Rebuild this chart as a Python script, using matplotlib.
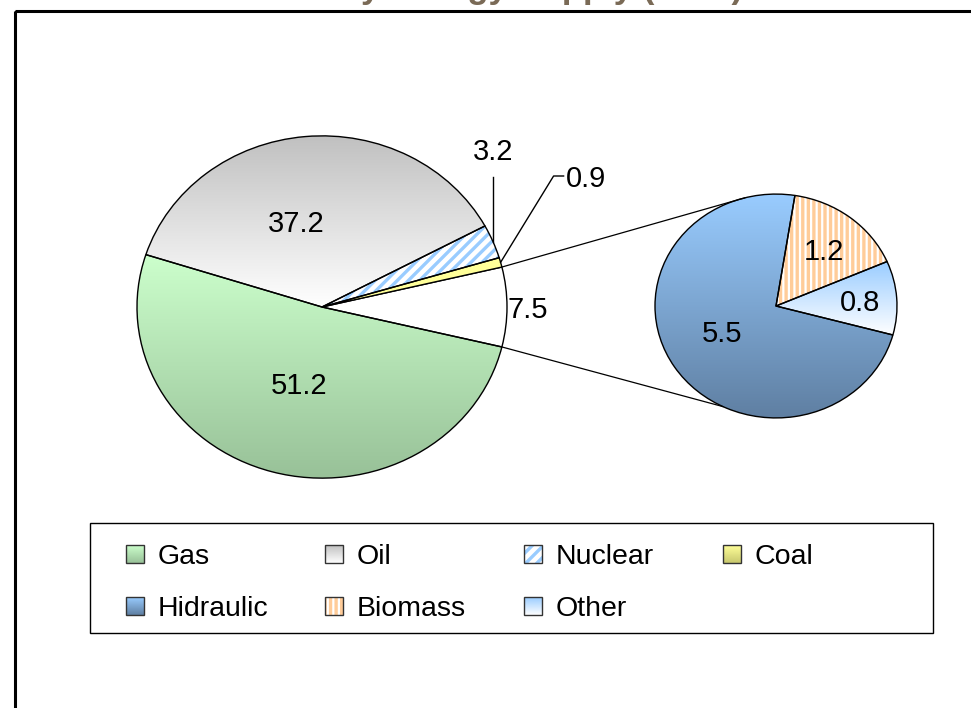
import numpy as np
import matplotlib.pyplot as plt
from matplotlib.colors import LinearSegmentedColormap
from matplotlib.patches import Rectangle, Wedge

plt.rcParams['font.family'] = ['Liberation Sans', 'DejaVu Sans']
plt.rcParams['hatch.linewidth'] = 2.4

title = "Primary Energy Supply (2007)"
main_labels = ["Other", "Coal", "Nuclear", "Oil", "Gas"]
main_values = [7.5, 0.9, 3.2, 37.2, 51.2]
sub_labels = ["Other", "Biomass", "Hidraulic"]
sub_values = [0.8, 1.2, 5.5]
legend_labels = ["Gas", "Oil", "Nuclear", "Coal", "Hidraulic", "Biomass", "Other"]

# fills: vertical gradients (top, bottom) or hatches (pattern, colour)
gradients = {
    "Gas": ("#ccffcc", "#98c198"),
    "Oil": ("#c0c0c0", "#ffffff"),
    "Coal": ("#ffff99", "#c8c86e"),
    "Hidraulic": ("#99ccff", "#5f7fa2"),
    "Other": ("#99ccff", "#ffffff"),
}
hatches = {"Nuclear": ("///", "#99ccff"), "Biomass": ("|||", "#ffcc99")}

W, H = 971, 708
K = 0.925  # pies are a bit wider than tall

fig = plt.figure(figsize=(W / 100, H / 100), dpi=100)
ax = fig.add_axes([0, 0, 1, 1])


def py(v):
    # pixel row -> y in the pie axes
    return (H - v) / K


def gradient_fill(axis, patch, top, bot):
    bb = patch.get_path().transformed(patch.get_patch_transform()).get_extents()
    cols = [bot, top]
    if axis.yaxis_inverted():
        cols = cols[::-1]
    cmap = LinearSegmentedColormap.from_list("g", cols)
    grad = np.linspace(0, 1, 256).reshape(-1, 1)
    im = axis.imshow(grad, cmap=cmap, origin="lower", aspect="auto",
                     extent=(bb.x0, bb.x1, bb.y0, bb.y1), zorder=0.5)
    im.set_clip_path(patch)


def style_wedges(wedges, labels, flat):
    for w, lab in zip(wedges, labels):
        w.set_facecolor("none")
        if lab in flat:
            w.set_facecolor(flat[lab])
        elif lab in hatches:
            h, c = hatches[lab]
            ax.add_patch(Wedge(w.center, w.r, w.theta1, w.theta2, facecolor="white",
                               edgecolor=c, linewidth=0, hatch=h, zorder=0.5))
        else:
            gradient_fill(ax, w, *gradients[lab])


def wedge_point(w, frac, dang=0.0):
    a = np.deg2rad((w.theta1 + w.theta2) / 2 + dang)
    return w.center[0] + frac * w.r * np.cos(a), w.center[1] + frac * w.r * np.sin(a)


def rim_point(center, r, ang):
    a = np.deg2rad(ang)
    return center[0] + r * np.cos(a), center[1] + r * np.sin(a)


wp = dict(edgecolor="black", linewidth=1.0)
main_c, main_r = (322, py(307)), 185
sub_c, sub_r = (776, py(306)), 121

main_w, _ = ax.pie(main_values, center=main_c, radius=main_r, startangle=-13.5,
                   frame=True, wedgeprops=wp)
sub_w, _ = ax.pie(sub_values, center=sub_c, radius=sub_r, startangle=-15,
                  frame=True, wedgeprops=wp)

style_wedges(main_w, main_labels, {"Other": "white", "Coal": "#ffff99"})
style_wedges(sub_w, sub_labels, {})

fs = 21
main_pos = {"Other": (1.11, 0), "Oil": (0.52, 10), "Gas": (0.46, 0)}
for w, lab, v in zip(main_w, main_labels, main_values):
    if lab in main_pos:
        x, y = wedge_point(w, *main_pos[lab])
        ax.text(x, y, f"{v:.1f}", ha="center", va="center_baseline", fontsize=fs)

sub_pos = {"Other": (0.7, 0), "Biomass": (0.65, 0), "Hidraulic": (0.5, -7)}
for w, lab, v in zip(sub_w, sub_labels, sub_values):
    x, y = wedge_point(w, *sub_pos[lab])
    ax.text(x, y, f"{v:.1f}", ha="center", va="center_baseline", fontsize=fs)

# leader lines for the two thin slices
nuc = main_w[main_labels.index("Nuclear")]
nx, ny = wedge_point(nuc, 1.0)
ax.plot([nx, nx], [ny, py(177)], color="black", lw=1)
ax.text(nx, py(160), f"{main_values[main_labels.index('Nuclear')]:.1f}",
        ha="center", va="baseline", fontsize=fs)

coal = main_w[main_labels.index("Coal")]
cx, cy = wedge_point(coal, 1.0)
ax.plot([cx, cx + 53, cx + 63], [cy, py(176), py(176)], color="black", lw=1)
ax.text(cx + 65, py(176), f"{main_values[main_labels.index('Coal')]:.1f}",
        ha="left", va="center_baseline", fontsize=fs)

# connectors between the "Other" slice and the second pie
oth = main_w[main_labels.index("Other")]
for a_main, a_sub in [(oth.theta2, 105), (oth.theta1, 244)]:
    x1, y1 = rim_point(main_c, main_r, a_main)
    x2, y2 = rim_point(sub_c, sub_r, a_sub)
    ax.plot([x1, x2], [y1, y2], color="black", lw=0.9)

ax.set_aspect("auto")
ax.set_xlim(0, W)
ax.set_ylim(0, H / K)
ax.axis("off")

# overlay in pixel units for frame, title and legend
lx = fig.add_axes([0, 0, 1, 1])
lx.set_xlim(0, W)
lx.set_ylim(H, 0)
lx.axis("off")

lx.add_patch(Rectangle((15, 10.5), W, H, fill=False, edgecolor="black", lw=2.2, clip_on=False))
lx.text(497, -2, title, ha="center", va="baseline", fontsize=25, fontweight="bold",
        color="#7a6a56", clip_on=False)

lx.add_patch(Rectangle((90, 523), 843, 110, fill=False, edgecolor="black", lw=1))
for i, lab in enumerate(legend_labels):
    col, row = i % 4, i // 4
    x0, yc = 126 + 199 * col, 554 + 52 * row
    sq = Rectangle((x0, yc - 9), 18, 18, facecolor="none", edgecolor="#333333", lw=1, zorder=3)
    lx.add_patch(sq)
    if lab in hatches:
        h, c = hatches[lab]
        lx.add_patch(Rectangle((x0, yc - 9), 18, 18, facecolor="white", edgecolor=c,
                               lw=0, hatch=h, zorder=1))
    else:
        gradient_fill(lx, sq, *gradients[lab])
    lx.text(x0 + 32, yc, lab, ha="left", va="center_baseline", fontsize=20.5)

lx.set_xlim(0, W)
lx.set_ylim(H, 0)

fig.savefig("out.png", dpi=100)
